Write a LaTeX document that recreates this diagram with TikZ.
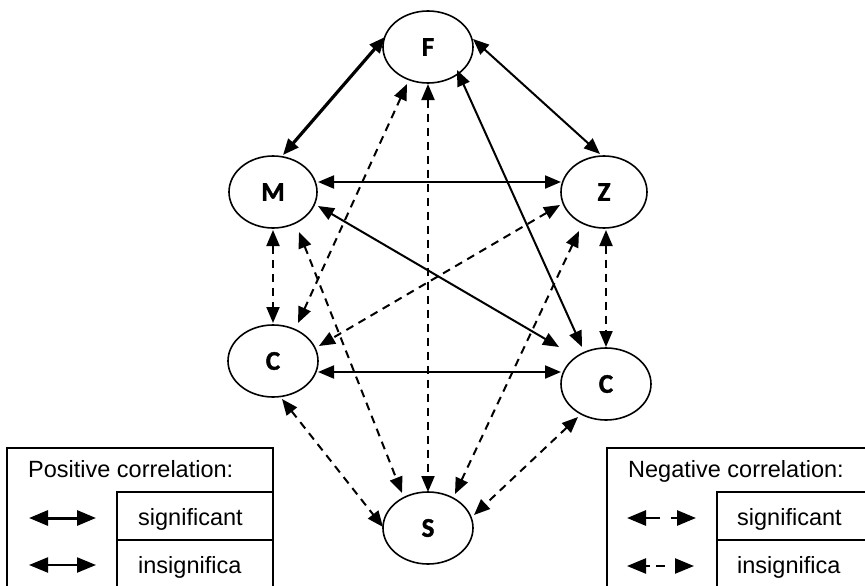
\documentclass[tikz,border=0pt]{standalone}
\usepackage{fontspec}
\setmainfont{Liberation Sans}
\newfontfamily\labfont{Carlito}[FakeBold=1.5]
\usetikzlibrary{arrows.meta,calc,shapes.geometric}
\tikzset{legtip/.tip={Triangle[length=19pt,width=15pt]},
  maintip/.tip={Triangle[length=16pt,width=13pt]}}
\begin{document}
\begin{tikzpicture}[x=1pt,y=-1pt,
  vert/.style={draw,ellipse,line width=1.6pt,inner sep=0pt,minimum width=90pt,minimum height=72pt,
    font=\labfont\bfseries\fontsize{27}{27}\selectfont},
  sig/.style={line width=2pt,maintip-maintip},
  thicksig/.style={sig,line width=3.2pt},
  ins/.style={sig,dash pattern=on 8pt off 6pt},
  legbox/.style={line width=1.2pt},
  legtxt/.style={anchor=base west,inner sep=0pt,font=\fontsize{23.5}{24}\selectfont},
]
\useasboundingbox (0,0) rectangle (865,586);
\clip (0,0) rectangle (865,586);
\fill[white] (0,0) rectangle (865,586);

% vertices
\node[vert] (F)  at (428,47)  {F};
\node[vert,minimum width=88pt] (M)  at (273,192) {M};
\node[vert,minimum width=86pt] (Z)  at (604,192) {Z};
\node[vert] (Cl) at (273,361) {C};
\node[vert] (Cr) at (606,384) {C};
\node[vert] (S)  at (428,528) {S};

% solid connectors
\draw[thicksig] ($(F)+(-43,-10)$) -- ($(M)+(10,-37)$);
\draw[sig] ($(F)+(45,-8)$) -- ($(Z)+(-4,-38)$);
\draw[sig] ($(M)+(45,-10)$) -- ($(Z)+(-43,-10)$);
\draw[sig] ($(M)+(45,14)$) -- ($(Cr)+(-47,-37)$);
\draw[sig] ($(F)+(29,23)$) -- ($(Cr)+(-24,-37)$);
\draw[sig] ($(Cl)+(45,11)$) -- ($(Cr)+(-45,-12)$);

% dashed connectors
\draw[ins] ($(F)+(-21,37)$) -- ($(Cl)+(25,-38)$);
\draw[ins] ($(F)+(0,37)$) -- ($(S)+(0,-36)$);
\draw[ins] ($(M)+(0,38)$) -- ($(Cl)+(0,-38)$);
\draw[ins] ($(M)+(26,40)$) -- ($(S)+(-26,-35)$);
\draw[ins] ($(Z)+(-44,13)$) -- ($(Cl)+(46,-15)$);
\draw[ins] ($(Z)+(-25,39)$) -- ($(S)+(27,-34)$);
\draw[ins] ($(Z)+(2,38)$) -- ($(Cr)+(0,-37)$);
\draw[ins] ($(Cl)+(9,38)$) -- ($(S)+(-45,-1)$);
\draw[ins] ($(Cr)+(-28,33)$) -- ($(S)+(46,-13)$);

% legend left
\draw[legbox] (7,448) rectangle (273,600);
\draw[legbox] (117,600) -- (117,492) -- (273,492);
\draw[legbox] (117,540) -- (273,540);
\node[legtxt] (lpt) at (28,477) {Positive correlation:};
\node[legtxt] (lps) at (138,525) {significant};
\node[legtxt] (lpi) at (138,573) {insignifica};
\coordinate (pa1) at (29,518); \coordinate (pa2) at (96,518);
\coordinate (pb1) at (29,565); \coordinate (pb2) at (96,565);
\draw[line width=3pt,legtip-legtip] (pa1) -- (pa2);
\draw[line width=2.2pt,legtip-legtip] (pb1) -- (pb2);

% legend right
\draw[legbox] (607,600) -- (607,448) -- (880,448);
\draw[legbox] (717,600) -- (717,492) -- (880,492);
\draw[legbox] (717,540) -- (880,540);
\node[legtxt] (lnt) at (628,477) {Negative correlation:};
\node[legtxt] (lns) at (737,525) {significant};
\node[legtxt] (lni) at (737,573) {insignifica};
\coordinate (na1) at (627,518); \coordinate (na2) at (660,518);
\coordinate (na3) at (671,518); \coordinate (na4) at (696,518);
\draw[line width=2.8pt,legtip-] (na1) -- (na2);
\draw[line width=2.8pt,-legtip] (na3) -- (na4);
\coordinate (nb1) at (627,566); \coordinate (nb2) at (650,566);
\coordinate (nb3) at (656,566); \coordinate (nb4) at (665,566);
\coordinate (nb5) at (676,566); \coordinate (nb6) at (694,566);
\draw[line width=2.4pt,legtip-] (nb1) -- (nb2);
\draw[line width=2.4pt] (nb3) -- (nb4);
\draw[line width=2.4pt,-legtip] (nb5) -- (nb6);
\end{tikzpicture}
\end{document}
